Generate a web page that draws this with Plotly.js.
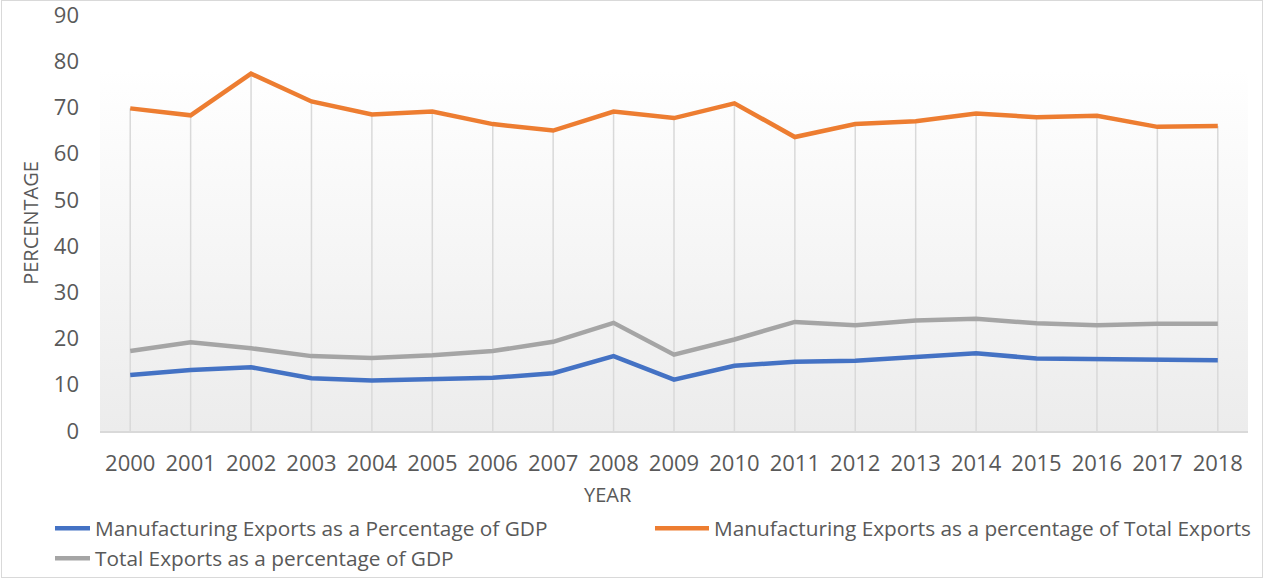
<!DOCTYPE html>
<html>
<head>
<meta charset="utf-8">
<script src="https://cdn.plot.ly/plotly-3.0.1.min.js"></script>
<style>
  html, body { margin: 0; padding: 0; background: #ffffff; }
  #wrap { position: relative; width: 1264px; height: 579px; }
  #chart { position: absolute; left: 0; top: 0; width: 1264px; height: 579px; }
  #frame { position: absolute; left: 1px; top: 0px; width: 1262px; height: 578px; box-sizing: border-box; border: 1.5px solid #d9d9d9; pointer-events: none; }
</style>
</head>
<body>
<div id="wrap"><div id="chart"></div><div id="frame"></div></div>
<script>
const years = ["2000","2001","2002","2003","2004","2005","2006","2007","2008","2009","2010","2011","2012","2013","2014","2015","2016","2017","2018"];
const mfgExportsPctGDP = [12.1,13.2,13.8,11.4,10.9,11.2,11.5,12.5,16.2,11.1,14.1,15.0,15.2,16.0,16.8,15.7,15.6,15.3,15.3];
const mfgExportsPctTotal = [69.8,68.3,77.3,71.3,68.5,69.1,66.4,65.0,69.1,67.7,70.9,63.6,66.4,67.0,68.7,67.9,68.2,65.8,66.0];
const totalExportsPctGDP = [17.3,19.2,17.9,16.2,15.8,16.4,17.3,19.3,23.4,16.5,19.8,23.6,22.9,23.9,24.3,23.3,22.9,23.2,23.2];
const seriesNames = ["Manufacturing Exports as a Percentage of GDP","Manufacturing Exports as a percentage of Total Exports","Total Exports as a percentage of GDP"];

// drop lines from the top series down to the axis
const dropX = [], dropY = [];
years.forEach((yr, i) => { dropX.push(yr, yr, null); dropY.push(0, mfgExportsPctTotal[i], null); });

const FONT = "Open Sans, sans-serif";
const TXT = "#595959";

const traces = [
  { x: dropX, y: dropY, type: "scatter", mode: "lines", line: { color: "#d9d9d9", width: 1.5 }, showlegend: false, hoverinfo: "skip" },
  { x: years, y: mfgExportsPctGDP, name: seriesNames[0], type: "scatter", mode: "lines", line: { color: "#4472C4", width: 4.5 } },
  { x: years, y: mfgExportsPctTotal, name: seriesNames[1], type: "scatter", mode: "lines", line: { color: "#ED7D31", width: 4.5 } },
  { x: years, y: totalExportsPctGDP, name: seriesNames[2], type: "scatter", mode: "lines", line: { color: "#A5A5A5", width: 4.5 } }
];

const grad = "data:image/svg+xml;utf8," + encodeURIComponent(
  "<svg xmlns='http://www.w3.org/2000/svg' width='100' height='100' preserveAspectRatio='none'>" +
  "<defs><linearGradient id='g' x1='0' y1='0' x2='0' y2='1'><stop offset='0' stop-color='#ffffff'/><stop offset='1' stop-color='#ececec'/></linearGradient></defs>" +
  "<rect width='100' height='100' fill='url(#g)'/></svg>");

const layout = {
  width: 1264, height: 579,
  margin: { l: 100, r: 16, t: 15, b: 148, autoexpand: false },
  paper_bgcolor: "rgba(0,0,0,0)",
  plot_bgcolor: "rgba(0,0,0,0)",
  font: { family: FONT, color: TXT, size: 20 },
  showlegend: true,
  xaxis: {
    type: "category", range: [-0.5, 18.5], showgrid: false, zeroline: false,
    showline: true, linecolor: "#d9d9d9", linewidth: 2, ticks: "",
    tickfont: { family: FONT, size: 22, color: TXT }, ticklabelstandoff: 12
  },
  yaxis: {
    range: [0, 90], dtick: 10, showgrid: false, zeroline: false, showline: false, ticks: "",
    tickfont: { family: FONT, size: 22, color: TXT }, ticklabelstandoff: 20, ticklabeloverflow: "allow",
    title: { text: "PERCENTAGE", font: { family: FONT, size: 20, color: TXT }, standoff: 9 }
  },
  annotations: [
    { text: "YEAR", xref: "paper", yref: "paper", x: 0.4425, y: -0.1538, xanchor: "center", yanchor: "middle", showarrow: false, font: { family: FONT, size: 20, color: TXT } }
  ],
  images: [
    { source: grad, xref: "paper", yref: "paper", x: 0, y: 0.87, sizex: 1, sizey: 0.87, xanchor: "left", yanchor: "top", sizing: "stretch", layer: "below" }
  ],
  legend: {
    orientation: "h", x: -0.0392, xanchor: "left", y: -0.1856, yanchor: "top",
    font: { family: FONT, size: 20.8, color: TXT }, entrywidth: 574, entrywidthmode: "pixels",
    bgcolor: "rgba(0,0,0,0)", traceorder: "normal"
  }
};

Plotly.newPlot("chart", traces, layout, { displayModeBar: false, staticPlot: true }).then(gd => {
  // lengthen the legend line samples to match the reference swatch
  gd.querySelectorAll(".legend .legendlines path").forEach(p => p.setAttribute("d", "M-19,0h54"));
});
</script>
</body>
</html>
